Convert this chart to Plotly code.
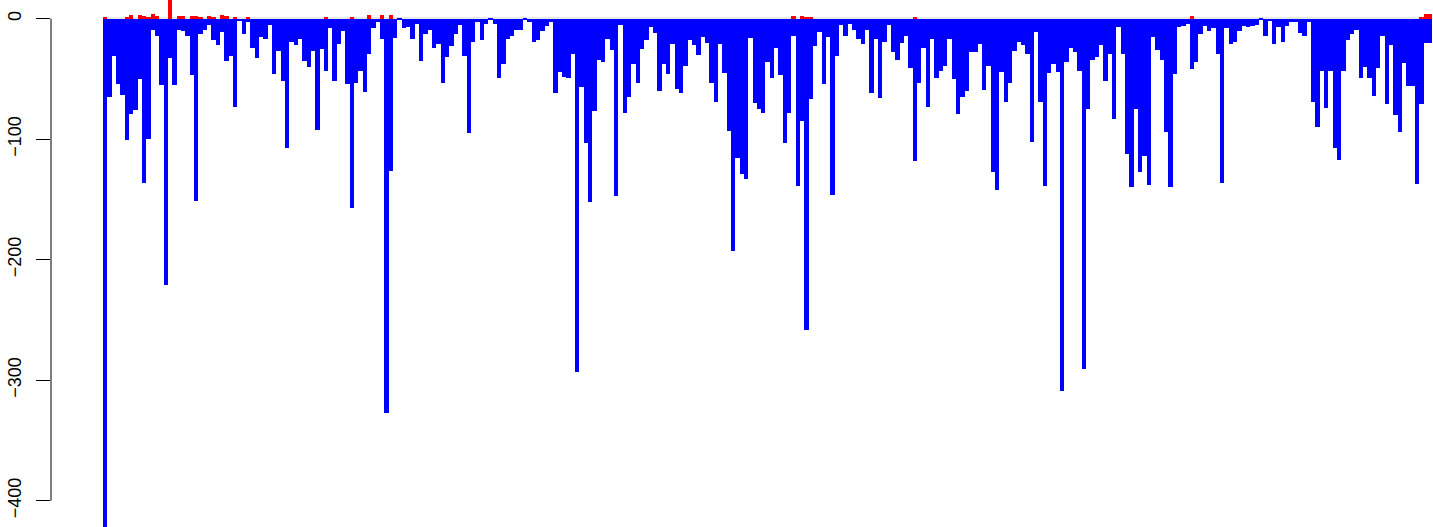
import plotly.graph_objects as go

# negative (blue) bar values, one per position
neg_values = [
    -425, -65, -31, -54, -63, -101, -79, -76, -50, -136,
    -100, -9, -14, -55, -221, -33, -55, -9, -10, -14,
    -47, -151, -13, -9, -5, -18, -22, -11, -35, -31,
    -73, -2, -13, -3, -24, -33, -15, -17, -5, -46,
    -27, -52, -107, -19, -22, -17, -35, -40, -27, -92,
    -25, -43, -8, -52, -21, -10, -54, -157, -53, -43,
    -61, -29, -8, -3, -17, -327, -126, -16, -1, -8,
    -7, -17, -4, -35, -13, -9, -24, -21, -53, -32,
    -23, -13, -5, -31, -95, -19, -3, -18, -4, -1,
    -4, -49, -38, -17, -14, -9, -9, -1, -3, -19,
    -18, -10, -6, -3, -62, -44, -48, -49, -29, -293,
    -57, -103, -152, -77, -34, -36, -17, -26, -147, -5,
    -78, -65, -38, -53, -25, -18, -7, -12, -60, -38,
    -46, -21, -58, -62, -39, -18, -22, -30, -15, -20,
    -53, -69, -21, -45, -93, -193, -116, -129, -133, -16,
    -70, -75, -78, -36, -49, -24, -47, -103, -78, -14,
    -139, -85, -258, -67, -23, -11, -54, -15, -146, -31,
    -5, -14, -4, -9, -17, -21, -9, -62, -17, -66,
    -19, -5, -28, -34, -20, -14, -41, -118, -53, -24,
    -73, -17, -49, -43, -39, -17, -50, -79, -65, -60,
    -28, -28, -21, -59, -39, -127, -142, -44, -69, -53,
    -27, -19, -22, -29, -102, -11, -69, -139, -45, -38,
    -44, -309, -36, -24, -28, -43, -291, -75, -34, -32,
    -22, -52, -29, -83, -7, -29, -112, -140, -75, -127,
    -114, -138, -15, -26, -34, -94, -140, -46, -7, -6,
    -4, -42, -36, -13, -6, -10, -8, -29, -136, -8,
    -21, -19, -10, -6, -7, -6, -5, -1, -14, -2,
    -21, -7, -19, -6, -3, -3, -12, -14, -3, -69,
    -90, -43, -74, -43, -107, -117, -43, -18, -13, -9,
    -49, -40, -49, -64, -41, -14, -71, -22, -80, -94,
    -37, -56, -56, -137, -71, -20, -20,
]

# positive (red) bars: positions and values
red_positions = [0, 5, 6, 8, 9, 10, 11, 12, 15, 17, 18, 20, 21, 22, 24, 25,
                 27, 28, 30, 33, 51, 57, 61, 64, 66, 159, 161, 162, 163, 187,
                 251, 304, 305, 306]
red_values = [1, 1, 3, 3, 2, 1.5, 4, 2, 20, 2, 2, 2, 2, 1, 2, 1,
              3, 2, 1, 1, 1, 1, 3, 3, 3, 2, 2, 1, 1, 1,
              2, 1, 4, 4]

y_ticks = [0, -100, -200, -300, -400]

n = len(neg_values)
positions = list(range(n))
pos_values = [0] * n
for p, v in zip(red_positions, red_values):
    pos_values[p] = v

fig = go.Figure()
fig.add_trace(go.Bar(x=positions, y=pos_values, width=1,
                     marker=dict(color="#ff0000", line=dict(width=0)),
                     hoverinfo="skip"))
fig.add_trace(go.Bar(x=positions, y=neg_values, width=1,
                     marker=dict(color="#0000ff", line=dict(width=0)),
                     hoverinfo="skip"))

# light zero line
fig.add_shape(type="line", xref="x", yref="y", x0=-0.5, x1=n - 0.5, y0=0.6, y1=0.6,
              line=dict(color="#d0d0d0", width=1), layer="below")
# R-style axis line spanning first to last tick
fig.add_shape(type="line", xref="paper", yref="y", x0=0, x1=0, y0=0, y1=-400,
              line=dict(color="black", width=1))

fig.update_layout(
    width=1433, height=527,
    margin=dict(l=51, r=0, t=0, b=0, autoexpand=False),
    paper_bgcolor="white", plot_bgcolor="white",
    barmode="overlay", bargap=0,
    showlegend=False,
    xaxis=dict(visible=False, range=[-12.51, 306.66], automargin=False),
    yaxis=dict(range=[-421.8, 15.5], tickvals=y_ticks, automargin=False,
               ticks="outside", ticklen=14, tickwidth=1, tickcolor="black",
               tickangle=-90, showgrid=False, zeroline=False, showline=False,
               ticklabelstandoff=8,
               tickfont=dict(family="Liberation Sans, Arial, sans-serif", size=18, color="black")),
)

fig.write_html("out.html",
               config={"displayModeBar": False},
               post_script="document.body.style.margin='0';document.body.style.overflow='hidden';")
